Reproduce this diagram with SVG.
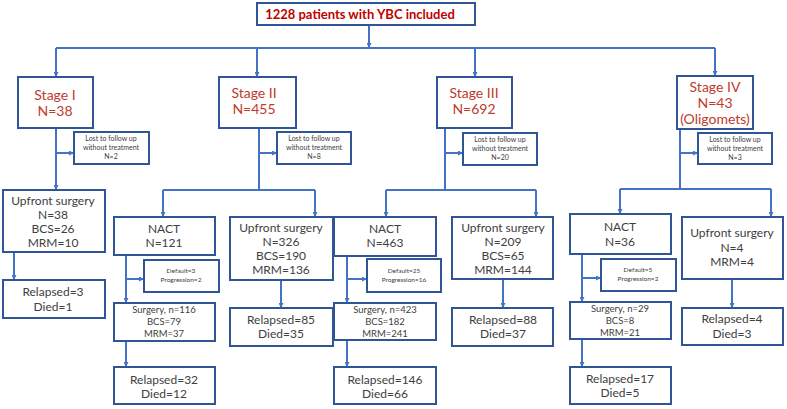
<svg xmlns="http://www.w3.org/2000/svg" width="787" height="409" viewBox="0 0 787 409">
<defs>
<marker id="ah" viewBox="0 0 10 10" refX="10" refY="5" markerWidth="5" markerHeight="5" orient="auto" markerUnits="userSpaceOnUse">
<path d="M0,0 L10,5 L0,10 z" fill="#4472C4"/>
</marker>
</defs>
<style>
.box{fill:#fff;stroke:#2F5597;stroke-width:2}
.c{fill:none;stroke:#4472C4;stroke-width:2}
.a{marker-end:url(#ah)}
text{font-family:Lato,"Open Sans","Liberation Sans",sans-serif;text-anchor:middle;fill:#404040}
.t{font-size:13px;font-weight:bold;fill:#C00000}
.s{font-size:14px;fill:#C0392B}
.m{font-size:12px}
.sm{font-size:9.5px}
.xs{font-size:7px}
.xxs{font-size:6.5px}
</style>
<rect width="787" height="409" fill="#fff"/>
<g id="connectors">
<path class="c a" d="M369,25 V48"/>
<path class="c" d="M56,48 H715"/>
<path class="c a" d="M56,48 V77"/>
<path class="c a" d="M257,48 V77"/>
<path class="c a" d="M475,48 V77"/>
<path class="c a" d="M715,48 V76"/>
<!-- Stage I -->
<path class="c a" d="M56,128 V190"/>
<path class="c a" d="M56,153 H74"/>
<path class="c a" d="M14,252 V280"/>
<!-- Stage II -->
<path class="c" d="M259,128 V190"/>
<path class="c a" d="M259,153 H277"/>
<path class="c" d="M163,190 H315"/>
<path class="c a" d="M163,190 V217"/>
<path class="c a" d="M315,190 V217"/>
<path class="c a" d="M126,255 V303"/>
<path class="c a" d="M126,279 H144"/>
<path class="c a" d="M126,341 V367"/>
<path class="c a" d="M281,280 V308"/>
<!-- Stage III -->
<path class="c" d="M445,128 V190"/>
<path class="c a" d="M445,153 H463"/>
<path class="c" d="M386,190 H536"/>
<path class="c a" d="M386,190 V217"/>
<path class="c a" d="M536,190 V217"/>
<path class="c a" d="M347,256 V303"/>
<path class="c a" d="M347,279 H367"/>
<path class="c a" d="M347,340 V367"/>
<path class="c a" d="M503,279 V308"/>
<!-- Stage IV -->
<path class="c" d="M680,129 V189"/>
<path class="c a" d="M680,153 H698"/>
<path class="c" d="M620,189 H771"/>
<path class="c a" d="M620,189 V214"/>
<path class="c a" d="M771,189 V217"/>
<path class="c a" d="M582,254 V302"/>
<path class="c a" d="M582,278 H601"/>
<path class="c a" d="M582,339 V367"/>
<path class="c a" d="M732,279 V308"/>
</g>
<g id="title"><rect class="box" x="257" y="3" width="218" height="22"/><text class="t" x="360" y="19">1228 patients with YBC included</text></g>
<g id="stage1"><rect class="box" x="18" y="77" width="75" height="51"/><text class="s" x="55" y="100">Stage I</text><text class="s" x="55" y="116">N=38</text></g>
<g id="stage2"><rect class="box" x="219" y="77" width="77" height="51"/><text class="s" x="254" y="98">Stage II</text><text class="s" x="254" y="114">N=455</text></g>
<g id="stage3"><rect class="box" x="437" y="77" width="75" height="51"/><text class="s" x="474" y="98">Stage III</text><text class="s" x="474" y="114">N=692</text></g>
<g id="stage4"><rect class="box" x="677" y="76" width="76" height="53"/><text class="s" x="715" y="92">Stage IV</text><text class="s" x="715" y="108">N=43</text><text class="s" x="715" y="124">(Oligomets)</text></g>
<g id="lost1"><rect class="box" x="74" y="132" width="75" height="32"/><text class="xs" x="111" y="141">Lost to follow up</text><text class="xs" x="111" y="150">without treatment</text><text class="xs" x="111" y="159">N=2</text></g>
<g id="lost2"><rect class="box" x="277" y="132" width="74" height="32"/><text class="xs" x="314" y="141">Lost to follow up</text><text class="xs" x="314" y="150">without treatment</text><text class="xs" x="314" y="159">N=8</text></g>
<g id="lost3"><rect class="box" x="463" y="133" width="74" height="32"/><text class="xs" x="500" y="142">Lost to follow up</text><text class="xs" x="500" y="151">without treatment</text><text class="xs" x="500" y="160">N=20</text></g>
<g id="lost4"><rect class="box" x="698" y="133" width="74" height="31"/><text class="xs" x="735" y="142">Lost to follow up</text><text class="xs" x="735" y="151">without treatment</text><text class="xs" x="735" y="160">N=3</text></g>
<g id="up1"><rect class="box" x="3" y="190" width="102" height="62"/><text class="m" x="53" y="205">Upfront surgery</text><text class="m" x="53" y="219">N=38</text><text class="m" x="53" y="233">BCS=26</text><text class="m" x="53" y="247">MRM=10</text></g>
<g id="rel1"><rect class="box" x="3" y="280" width="102" height="38"/><text class="m" x="53" y="296">Relapsed=3</text><text class="m" x="53" y="311">Died=1</text></g>
<g id="nact2"><rect class="box" x="114" y="217" width="101" height="38"/><text class="m" x="164" y="233">NACT</text><text class="m" x="164" y="247">N=121</text></g>
<g id="def2"><rect class="box" x="144" y="260" width="75" height="32"/><text class="xxs" x="181" y="273">Default=3</text><text class="xxs" x="181" y="282">Progression=2</text></g>
<g id="surg2"><rect class="box" x="114" y="303" width="101" height="38"/><text class="sm" x="164" y="313">Surgery, n=116</text><text class="sm" x="164" y="325">BCS=79</text><text class="sm" x="164" y="337">MRM=37</text></g>
<g id="rel2a"><rect class="box" x="114" y="367" width="101" height="37"/><text class="m" x="164" y="384">Relapsed=32</text><text class="m" x="164" y="398">Died=12</text></g>
<g id="up2"><rect class="box" x="230" y="217" width="103" height="63"/><text class="m" x="281" y="232">Upfront surgery</text><text class="m" x="281" y="246">N=326</text><text class="m" x="281" y="260">BCS=190</text><text class="m" x="281" y="274">MRM=136</text></g>
<g id="rel2b"><rect class="box" x="230" y="308" width="103" height="38"/><text class="m" x="281" y="324">Relapsed=85</text><text class="m" x="281" y="338">Died=35</text></g>
<g id="nact3"><rect class="box" x="334" y="217" width="102" height="39"/><text class="m" x="385" y="233">NACT</text><text class="m" x="385" y="247">N=463</text></g>
<g id="def3"><rect class="box" x="367" y="259" width="74" height="33"/><text class="xxs" x="404" y="273">Default=25</text><text class="xxs" x="404" y="282">Progression=16</text></g>
<g id="surg3"><rect class="box" x="334" y="303" width="102" height="37"/><text class="sm" x="385" y="313">Surgery, n=423</text><text class="sm" x="385" y="325">BCS=182</text><text class="sm" x="385" y="337">MRM=241</text></g>
<g id="rel3a"><rect class="box" x="334" y="367" width="102" height="37"/><text class="m" x="385" y="384">Relapsed=146</text><text class="m" x="385" y="398">Died=66</text></g>
<g id="up3"><rect class="box" x="452" y="217" width="101" height="62"/><text class="m" x="503" y="232">Upfront surgery</text><text class="m" x="503" y="246">N=209</text><text class="m" x="503" y="260">BCS=65</text><text class="m" x="503" y="274">MRM=144</text></g>
<g id="rel3b"><rect class="box" x="452" y="308" width="101" height="38"/><text class="m" x="503" y="324">Relapsed=88</text><text class="m" x="503" y="338">Died=37</text></g>
<g id="nact4"><rect class="box" x="570" y="214" width="101" height="40"/><text class="m" x="620" y="231">NACT</text><text class="m" x="620" y="246">N=36</text></g>
<g id="def4"><rect class="box" x="601" y="259" width="75" height="32"/><text class="xxs" x="638" y="272">Default=5</text><text class="xxs" x="638" y="281">Progression=2</text></g>
<g id="surg4"><rect class="box" x="570" y="302" width="101" height="37"/><text class="sm" x="620" y="312">Surgery,  n=29</text><text class="sm" x="620" y="324">BCS=8</text><text class="sm" x="620" y="336">MRM=21</text></g>
<g id="rel4a"><rect class="box" x="570" y="367" width="101" height="37"/><text class="m" x="620" y="383">Relapsed=17</text><text class="m" x="620" y="397">Died=5</text></g>
<g id="up4"><rect class="box" x="682" y="217" width="101" height="62"/><text class="m" x="732" y="237">Upfront surgery</text><text class="m" x="732" y="252">N=4</text><text class="m" x="732" y="266">MRM=4</text></g>
<g id="rel4b"><rect class="box" x="682" y="308" width="101" height="37"/><text class="m" x="732" y="323">Relapsed=4</text><text class="m" x="732" y="338">Died=3</text></g>
</svg>
